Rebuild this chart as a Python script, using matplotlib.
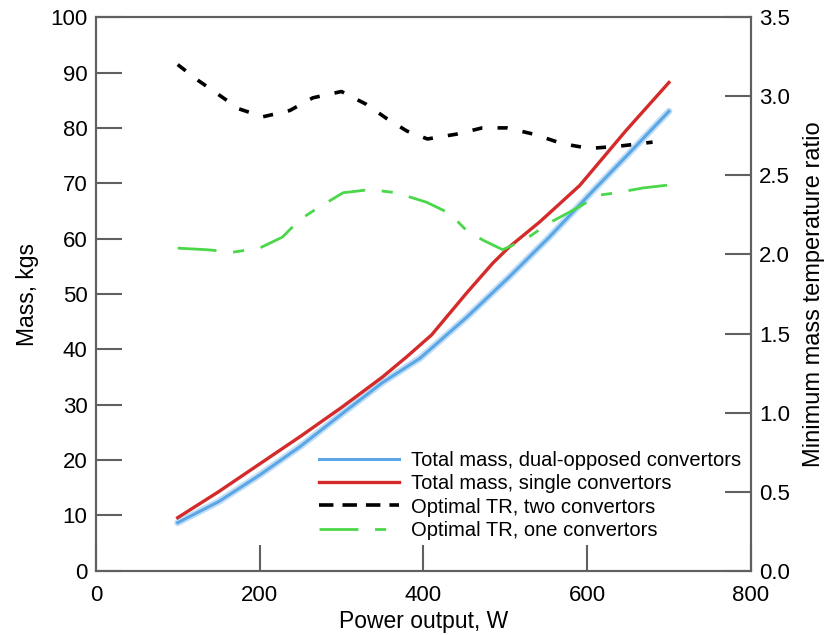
import matplotlib

matplotlib.use("Agg")
import matplotlib.pyplot as plt

plt.rcParams["font.family"] = ["Liberation Sans", "DejaVu Sans"]

# total mass curves (kg) vs power output (W)
single_x = [100, 150, 200, 250, 300, 350, 380, 410, 453, 485, 505, 542, 591, 648, 700]
single_y = [9.6, 14.3, 19.3, 24.3, 29.5, 35.0, 38.7, 42.6, 50.2, 55.6, 58.5, 63.0, 69.6, 79.6, 88.2]
dual_x = [100, 150, 200, 250, 300, 350, 396, 453, 505, 554, 607, 648, 700]
dual_y = [8.7, 12.5, 17.3, 22.5, 28.3, 34.0, 38.4, 45.8, 53.1, 60.3, 68.6, 74.9, 83.0]

# optimal temperature ratio curves (right axis)
tr_two_x = [100, 125, 150, 175, 204, 237, 265, 300, 330, 355, 380, 405, 440, 472, 502, 535, 570, 603, 640, 680]
tr_two_y = [3.20, 3.10, 3.01, 2.92, 2.87, 2.91, 2.99, 3.03, 2.95, 2.86, 2.78, 2.73, 2.76, 2.80, 2.80, 2.76, 2.70, 2.67, 2.685, 2.71]
tr_one_x = [100, 135, 168, 200, 228, 249, 273, 302, 335, 367, 404, 432, 453, 473, 497, 526, 554, 583, 615, 636, 668, 701]
tr_one_y = [2.04, 2.03, 2.015, 2.04, 2.11, 2.22, 2.30, 2.39, 2.41, 2.39, 2.33, 2.26, 2.15, 2.09, 2.03, 2.10, 2.20, 2.28, 2.375, 2.39, 2.42, 2.44]

SPINE = "#606060"

fig = plt.figure(figsize=(8.26, 6.35), dpi=100)
ax = fig.add_axes([0.116, 0.101, 0.793, 0.872])
ax2 = ax.twinx()

ax.plot(dual_x, dual_y, color="#a9d0f2", lw=5, alpha=0.7, solid_capstyle="round")
l1, = ax.plot(dual_x, dual_y, color="#5aa6e6", lw=2.2, label="Total mass, dual-opposed convertors")
l2, = ax.plot(single_x, single_y, color="#d42a2a", lw=2.4, label="Total mass, single convertors")
l3, = ax2.plot(tr_two_x, tr_two_y, color="black", lw=2.6, dashes=(2.8, 4.2), label="Optimal TR, two convertors")
l4, = ax2.plot(tr_one_x, tr_one_y, color="#4ad84a", lw=2, dashes=(14, 6, 4, 6), label="Optimal TR, one convertors")

ax.set_xlim(0, 800)
ax.set_ylim(0, 100)
ax2.set_ylim(0, 3.5)
ax.set_xticks([0, 200, 400, 600, 800])
ax.set_yticks(range(0, 101, 10))
ax2.set_yticks([0.0, 0.5, 1.0, 1.5, 2.0, 2.5, 3.0, 3.5])
ax2.set_yticklabels(["0.0", "0.5", "1.0", "1.5", "2.0", "2.5", "3.0", "3.5"])

for a in (ax, ax2):
    for s in a.spines.values():
        s.set_color(SPINE)
        s.set_linewidth(1.5)
    a.tick_params(direction="in", length=19, width=1.5, color=SPINE, labelsize=16, pad=6)
ax.tick_params(axis="x", pad=10)

ax.set_xlabel("Power output, W", fontsize=16.5, labelpad=3)
ax.set_ylabel("Mass, kgs", fontsize=16.5, labelpad=8)
ax2.set_ylabel("Minimum mass temperature ratio", fontsize=17, labelpad=9)

leg = ax2.legend(handles=[l1, l2, l3, l4], loc="lower right", bbox_to_anchor=(0.998, 0.042),
                 frameon=False, fontsize=14.5, handlelength=4.0, handletextpad=0.6,
                 labelspacing=0.2, borderaxespad=0)
leg.legend_handles[2].set_dashes((4, 2.5))

fig.savefig("out.png", dpi=100, facecolor="white")
